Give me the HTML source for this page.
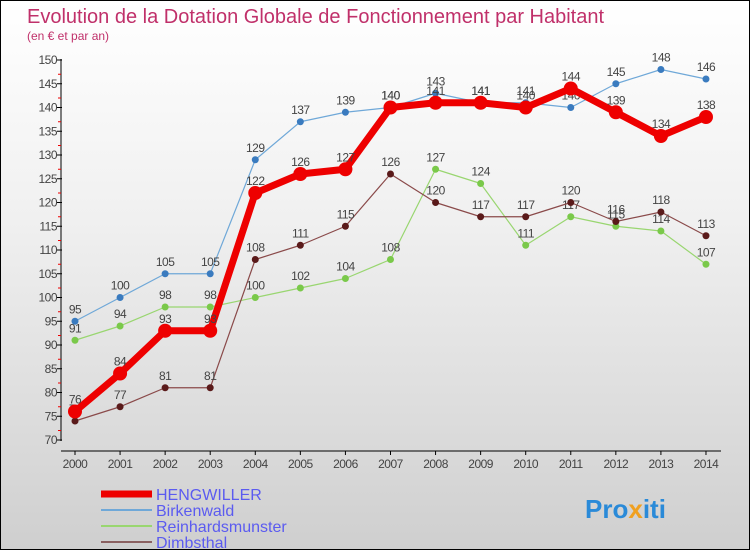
<!DOCTYPE html>
<html><head><meta charset="utf-8"><style>
html,body{margin:0;padding:0}
body{width:750px;height:550px;overflow:hidden;font-family:"Liberation Sans",sans-serif}
#wrap{position:relative;width:748px;height:548px;border:1px solid #000;background:linear-gradient(#ffffff,#f0f0f0 40%,#cfcfcf)}
</style></head><body>
<div id="wrap">
<svg id="chart" width="748" height="548"></svg>
</div>
<script>
const years=[2000,2001,2002,2003,2004,2005,2006,2007,2008,2009,2010,2011,2012,2013,2014];
const hengwiller=[76,84,93,93,122,126,127,140,141,141,140,144,139,134,138];
const birkenwald=[95,100,105,105,129,137,139,140,143,141,141,140,145,148,146];
const reinhardsmunster=[91,94,98,98,100,102,104,108,127,124,111,117,115,114,107];
const dimbsthal=[74,77,81,81,108,111,115,126,120,117,117,120,116,118,113];
const yTicks=[70,75,80,85,90,95,100,105,110,115,120,125,130,135,140,145,150];
const NS='http://www.w3.org/2000/svg';
const svg=document.getElementById('chart');
function xS(i){return 74+i*45.07;}
function yS(v){return 439-(v-70)*4.75;}
function mk(tag,attrs,parent){const e=document.createElementNS(NS,tag);for(const k in attrs)e.setAttribute(k,attrs[k]);(parent||svg).appendChild(e);return e;}
// title
let t=mk('text',{x:26,y:22,'font-size':20,fill:'#c0306a'});t.textContent='Evolution de la Dotation Globale de Fonctionnement par Habitant';


t=mk('text',{x:26,y:39,'font-size':12,fill:'#c0306a'});t.textContent='(en € et par an)';


// axes
let a=mk('line',{x1:60,y1:58,x2:60,y2:440,stroke:'#000','stroke-width':1});


a=mk('line',{x1:60,y1:450,x2:720,y2:450,stroke:'#000','stroke-width':1});


yTicks.forEach(v=>{
  const y=yS(v);
  mk('line',{x1:56,y1:y,x2:61,y2:y,stroke:'#000'});
  if(v<150)mk('line',{x1:57,y1:y-9.5,x2:60,y2:y-9.5,stroke:'#e00'});
  const l=mk('text',{x:56,y:y+4,'font-size':12,fill:'#444','text-anchor':'end','letter-spacing':'-0.5'});l.textContent=v;
  
  
});
years.forEach((yr,i)=>{
  const x=xS(i);
  mk('line',{x1:x,y1:450,x2:x,y2:454,stroke:'#000'});
  const l=mk('text',{x:x,y:467,'font-size':12,fill:'#444','text-anchor':'middle','letter-spacing':'-0.5'});l.textContent=yr;
  
  
});
function series(data,color,w,r,name,dot){
  const g=mk('g',{});
  
  
  mk('polyline',{points:data.map((v,i)=>xS(i)+','+yS(v)).join(' '),fill:'none',stroke:color,'stroke-width':w,'stroke-linejoin':'round'},g);
  data.forEach((v,i)=>{
    const c=mk('circle',{cx:xS(i),cy:yS(v),r:r,fill:dot},g);
    
    
    const l=mk('text',{x:xS(i),y:yS(v)-8,'font-size':12,fill:'#444','text-anchor':'middle','letter-spacing':'-0.5'},g);l.textContent=v;
    
    
  });
}
series(birkenwald,'#6fa8d8',1.2,3.5,'birkenwald','#3a7bbf');
series(reinhardsmunster,'#99d670',1.2,3.5,'reinhardsmunster','#7ac94a');
series(dimbsthal,'#8a4a4a',1.2,3.5,'dimbsthal','#5a1a1a');
series(hengwiller,'#ee0000',7,7,'hengwiller','#ee0000');
// legend
const leg=[['HENGWILLER','#ee0000',7],['Birkenwald','#6fa8d8',2],['Reinhardsmunster','#99d670',2],['Dimbsthal','#8a6060',2]];
leg.forEach((d,i)=>{
  const y=493+i*16;
  const g=mk('g',{});
  
  
  mk('line',{x1:100,y1:y,x2:151,y2:y,stroke:d[1],'stroke-width':d[2]},g);
  const l=mk('text',{x:155,y:y+6,'font-size':16,fill:'#5b5bf0'},g);l.textContent=d[0];
});
// logo
const lg=mk('text',{x:584,y:517,'font-size':26,'font-weight':'bold','font-family':'Liberation Sans'});


[['Pro','#2a8ad8'],['x','#f0a020'],['iti','#2a8ad8']].forEach(p=>{const s=mk('tspan',{fill:p[1]},lg);s.textContent=p[0];});
</script>
</body></html>
